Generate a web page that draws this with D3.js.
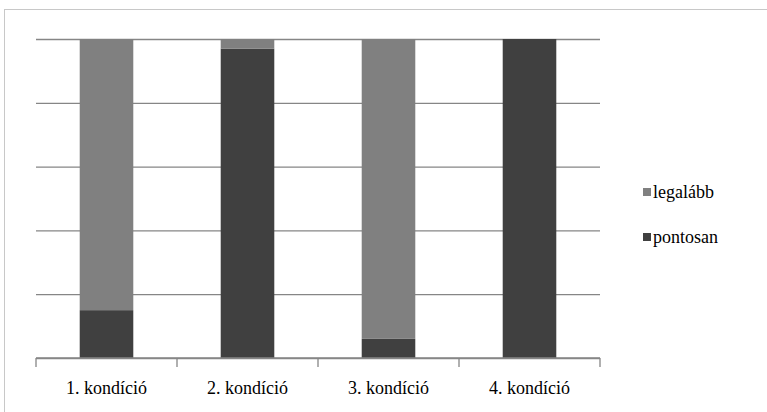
<!DOCTYPE html>
<html>
<head>
<meta charset="utf-8">
<script src="https://cdn.jsdelivr.net/npm/d3@7"></script>
<style>
  body { margin: 0; background: #fff; }
</style>
</head>
<body>
<div id="chart"></div>
<script>
// categories and percentages
const categories = ["1. kondíció", "2. kondíció", "3. kondíció", "4. kondíció"];
const pontosan = [15, 97, 6, 100];
const legalabb = [85, 3, 94, 0];
const seriesNames = ["pontosan", "legalább"];
const yTicks = [0, 20, 40, 60, 80, 100];

const W = 767, H = 412;
const margin = {left: 36, top: 39, right: 167, bottom: 54};
const width = W - margin.left - margin.right;
const height = H - margin.top - margin.bottom;
const serif = "Liberation Serif, DejaVu Serif, serif";

const color = d3.scaleOrdinal()
  .domain(seriesNames)
  .range(["#404040", "#808080"]);

const svg = d3.select("#chart").append("svg")
  .attr("width", W)
  .attr("height", H)
  .style("font-family", serif);

// outer chart frame
svg.append("rect")
  .attr("x", 4.5).attr("y", 9.5)
  .attr("width", W + 10).attr("height", H + 10)
  .attr("fill", "none")
  .attr("stroke", "#c8c8c8");

const g = svg.append("g")
  .attr("transform", `translate(${margin.left},${margin.top})`);

const x = d3.scaleBand().domain(categories).range([0, width]).paddingInner(0.62).paddingOuter(0.31);
const xEdge = d3.scaleBand().domain(categories).range([0, width]);
const y = d3.scaleLinear().domain([0, 100]).range([height, 0]);

// gridlines
g.append("g")
  .call(d3.axisLeft(y).tickValues(yTicks).tickSize(-width).tickFormat(""))
  .call(s => s.select(".domain").remove())
  .call(s => s.selectAll("line").attr("stroke", "#868686").attr("stroke-width", 1.3));

// stacked bars
const table = categories.map((c, i) => ({cat: c, pontosan: pontosan[i], "legalább": legalabb[i]}));
const stacked = d3.stack().keys(seriesNames)(table);

g.selectAll("g.layer")
  .data(stacked)
  .enter()
  .append("g")
  .attr("class", "layer")
  .attr("fill", d => color(d.key))
  .selectAll("rect")
  .data(d => d)
  .enter()
  .append("rect")
  .attr("x", d => x(d.data.cat))
  .attr("y", d => y(d[1]))
  .attr("width", x.bandwidth())
  .attr("height", d => y(d[0]) - y(d[1]));

// x axis with ticks between categories
const xAxis = g.append("g").attr("transform", `translate(0,${height})`);
xAxis.append("line")
  .attr("x1", 0).attr("x2", width)
  .attr("stroke", "#868686").attr("stroke-width", 1.3);
const edges = [0].concat(categories.map(c => xEdge(c) + xEdge.bandwidth()));
xAxis.selectAll("line.tick")
  .data(edges)
  .enter()
  .append("line")
  .attr("class", "tick")
  .attr("x1", d => d).attr("x2", d => d)
  .attr("y1", 0).attr("y2", 9)
  .attr("stroke", "#868686").attr("stroke-width", 1.3);
xAxis.selectAll("text")
  .data(categories)
  .enter()
  .append("text")
  .attr("x", d => xEdge(d) + xEdge.bandwidth() / 2)
  .attr("y", 36)
  .attr("text-anchor", "middle")
  .style("font-family", serif)
  .attr("font-size", 18)
  .attr("fill", "#000")
  .text(d => d);

// legend
const legendKeys = ["legalább", "pontosan"];
const legend = svg.append("g").attr("transform", "translate(643,0)");
legend.selectAll("rect")
  .data(legendKeys)
  .enter()
  .append("rect")
  .attr("x", 0)
  .attr("y", (d, i) => 188 + i * 45)
  .attr("width", 8).attr("height", 8)
  .attr("fill", d => color(d));
legend.selectAll("text")
  .data(legendKeys)
  .enter()
  .append("text")
  .attr("x", 10)
  .attr("y", (d, i) => 192 + i * 45)
  .attr("dy", "0.35em")
  .style("font-family", serif)
  .attr("font-size", 18)
  .attr("fill", "#000")
  .text(d => d);
</script>
</body>
</html>
